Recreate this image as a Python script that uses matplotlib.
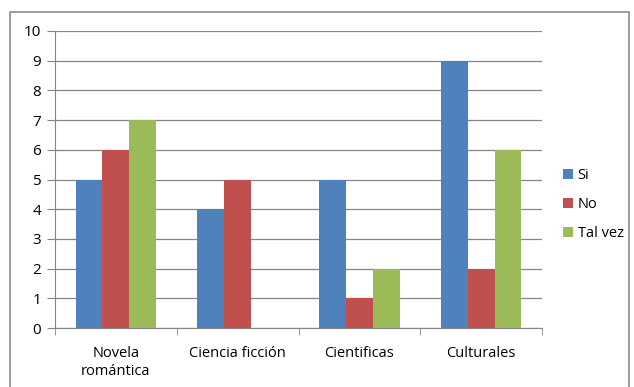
import numpy as np
import matplotlib.pyplot as plt
from matplotlib.patches import Rectangle

categorias = ["Novela\nromántica", "Ciencia ficción", "Cientificas", "Culturales"]
si = [5, 4, 5, 9]
no = [6, 5, 1, 2]
tal_vez = [7, 0, 2, 6]
series = ["Si", "No", "Tal vez"]
colores = ["#4F81BD", "#C0504D", "#9BBB59"]

plt.rcParams['font.family'] = ['Open Sans', 'DejaVu Sans']

fig = plt.figure(figsize=(6.34, 3.87), dpi=100)
ax = fig.add_axes([55/634, 1 - 328/387, (542 - 55)/634, (328 - 31)/387])

# marco exterior
fig.patches.append(Rectangle((10/634, -0.05), 619/634, 1 - 12/387 + 0.05,
                             transform=fig.transFigure, fill=False,
                             edgecolor="#8c8c8c", linewidth=1.2))

x = np.arange(len(categorias))
w = 0.22
for i, (vals, nombre) in enumerate(zip([si, no, tal_vez], series)):
    ax.bar(x + (i - 1) * w, vals, w, color=colores[i], label=nombre, zorder=3)

ax.set_xlim(-0.5, 3.5)
ax.set_ylim(0, 10)
ax.set_yticks(range(0, 11))
ax.yaxis.grid(True, color="#868686", linewidth=0.9, zorder=0)
ax.set_xticks(x)
ax.set_xticklabels(categorias, fontsize=10.5, linespacing=1.25)
ax.set_xticks(np.arange(-0.5, 4, 1), minor=True)
ax.tick_params(axis="x", which="major", length=0, pad=13)
ax.tick_params(axis="x", which="minor", length=5, color="#868686")
ax.tick_params(axis="y", length=6, color="#868686", labelsize=11, pad=4)
for s in ["top", "right"]:
    ax.spines[s].set_visible(False)
for s in ["left", "bottom"]:
    ax.spines[s].set_color("#868686")

fig.legend(loc="upper left", bbox_to_anchor=(550/634, 1 - 155/387),
           frameon=False, fontsize=10.5, handlelength=0.7, handleheight=0.7,
           handletextpad=0.3, labelspacing=0.95)

plt.savefig("out.png", dpi=100)
